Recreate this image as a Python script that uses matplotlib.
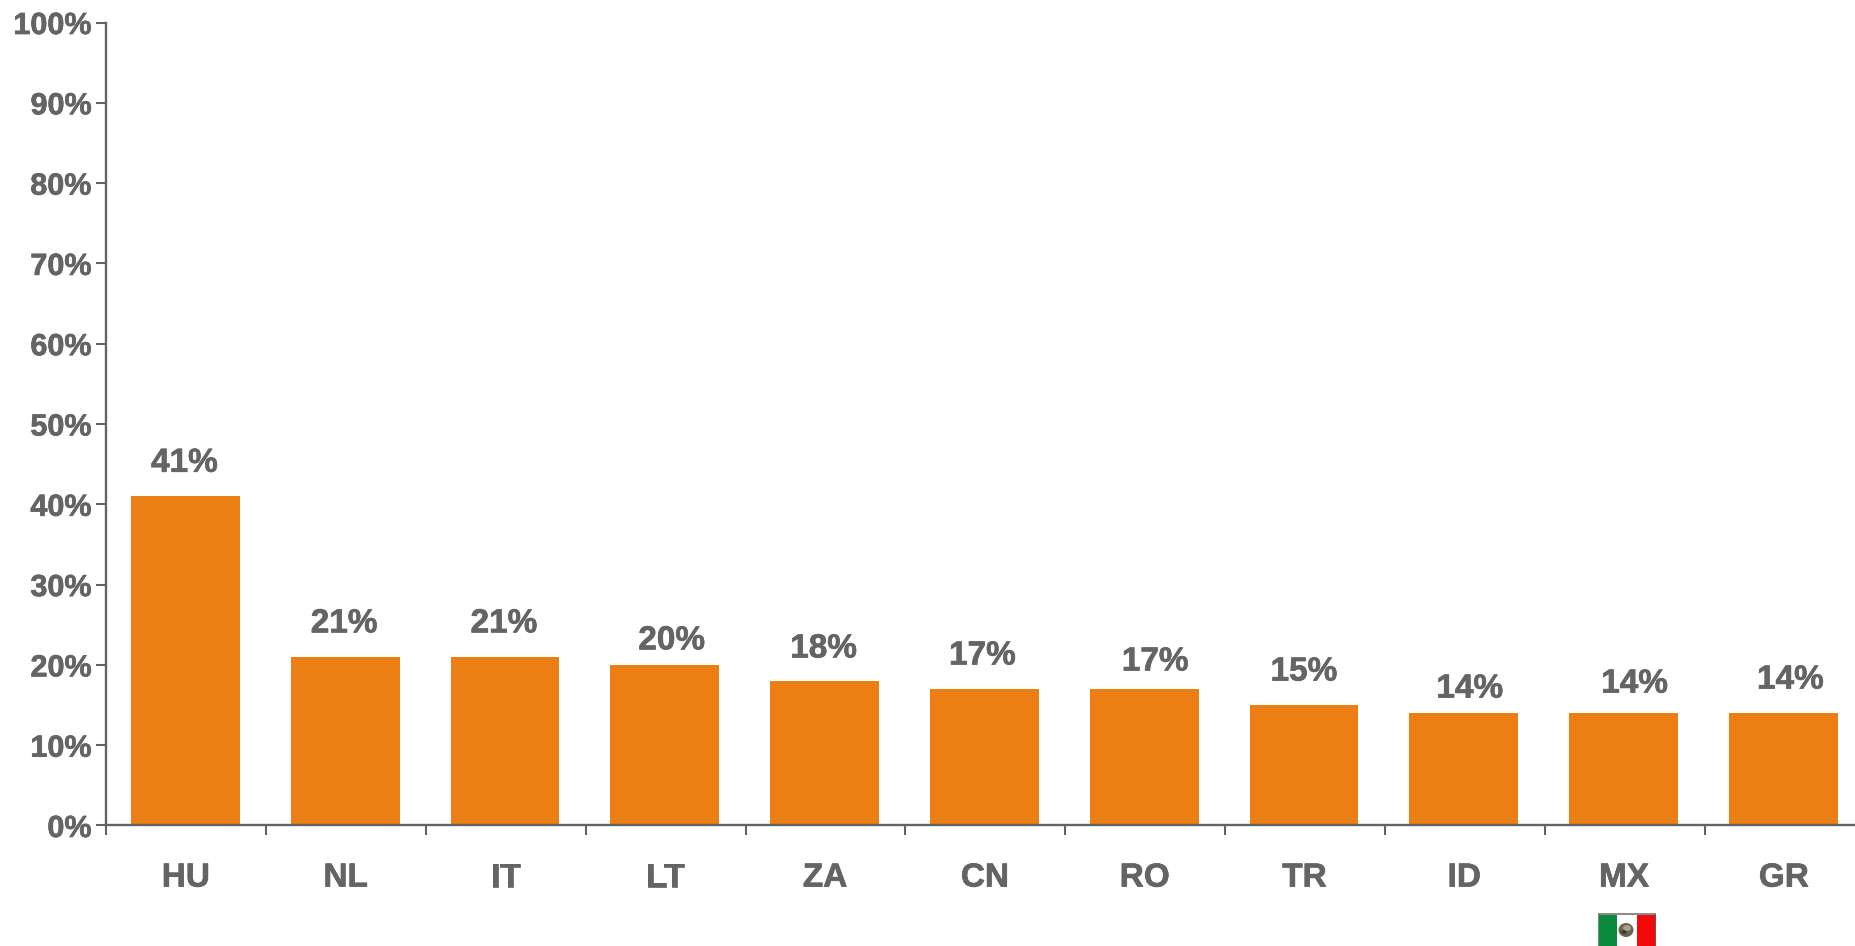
import matplotlib
matplotlib.use("Agg")
import matplotlib.pyplot as plt
import matplotlib.patheffects as pe
from matplotlib.patches import Rectangle, Ellipse

categories = ["HU", "NL", "IT", "LT", "ZA", "CN", "RO", "TR", "ID", "MX", "GR"]
values = [41, 21, 21, 20, 18, 17, 17, 15, 14, 14, 14]
y_ticks = list(range(0, 101, 10))

# hand placement of the value labels, in pixels relative to the top centre of each bar
label_dx = [-2, -2, -2, 6, -2, -3, 10, -1, 5, 10, 6]
label_gap = [33, 33, 33, 24, 32, 33, 27, 33, 24, 29, 33]

W, H = 1856, 946
PX = 0.72
GREY = "#636466"
ORANGE = "#EC7F13"
plt.rcParams["font.family"] = ["Liberation Sans", "DejaVu Sans"]
plt.rcParams["font.weight"] = "bold"
heavy = [pe.withStroke(linewidth=0.5, foreground=GREY)]

fig = plt.figure(figsize=(W / 100, H / 100), dpi=100, facecolor="white")
left, right, top, bottom = 106.5, W, 22.5, 825.5
ax = fig.add_axes([left / W, 1 - bottom / H, (right - left) / W, (bottom - top) / H])

step = 159.8
ax.set_xlim(-0.5, -0.5 + (right - left) / step)
ax.set_ylim(0, 100)
bars = ax.bar(range(len(categories)), values, width=0.68, color=ORANGE, linewidth=0, zorder=2)
for b in bars:
    b.set_x(b.get_x() - 1 / step)

for i, v in enumerate(values):
    ax.annotate(f"{v}%", (i, v), xytext=(label_dx[i] * PX, label_gap[i] * PX),
                textcoords="offset points", ha="center", va="center", fontsize=24,
                color=GREY, fontweight="bold", path_effects=heavy)

for s in ("top", "right"):
    ax.spines[s].set_visible(False)
for s in ("left", "bottom"):
    ax.spines[s].set_color(GREY)
    ax.spines[s].set_linewidth(1.7)
    ax.spines[s].set_zorder(3)

ax.set_yticks(y_ticks)
ax.set_yticklabels([f"{t}%" for t in y_ticks])
ax.tick_params(axis="y", length=7, width=1.5, color=GREY, labelcolor=GREY,
               labelsize=22, pad=3.8)
for lab in ax.get_yticklabels():
    lab.set_path_effects(heavy)
ax.set_xticks([i - 0.5 for i in range(len(categories))])
ax.set_xticklabels([""] * len(categories))
ax.tick_params(axis="x", length=7.5, width=1.5, color=GREY)

for i, c in enumerate(categories):
    ax.annotate(c, (i, 0), xytext=(-0.5 * PX, -(876 - 825.5) * PX - 1.5), textcoords="offset points",
                ha="center", va="center", fontsize=24, color=GREY, fontweight="bold",
                annotation_clip=False, path_effects=heavy)

# Mexican flag under the MX label, placed in figure pixels
def frect(x0, y0, x1, y1, color):
    fig.patches.append(Rectangle((x0 / W, 1 - y1 / H), (x1 - x0) / W, (y1 - y0) / H,
                                 transform=fig.transFigure, facecolor=color,
                                 edgecolor="none", figure=fig))

def fell(cx, cy, w, h, color):
    fig.patches.append(Ellipse((cx / W, 1 - cy / H), w / W, h / H,
                               transform=fig.transFigure, facecolor=color,
                               edgecolor="none", figure=fig))

frect(1598, 913, 1617, 946, "#0B8A3E")
frect(1617, 913, 1637, 946, "#FFFFFF")
frect(1637, 913, 1656, 946, "#F40A0A")
frect(1598, 913, 1656, 914.5, "#8C8C8C")
frect(1598, 914, 1599, 946, "#6E8F78")
frect(1655, 914, 1656, 946, "#7A5050")
fell(1626, 930, 15, 14, "#6B6250")
fell(1627, 928, 8, 6, "#A89F90")
fell(1624, 932, 5, 4, "#3F3A30")

fig.savefig("out.png", dpi=100, facecolor="white")
